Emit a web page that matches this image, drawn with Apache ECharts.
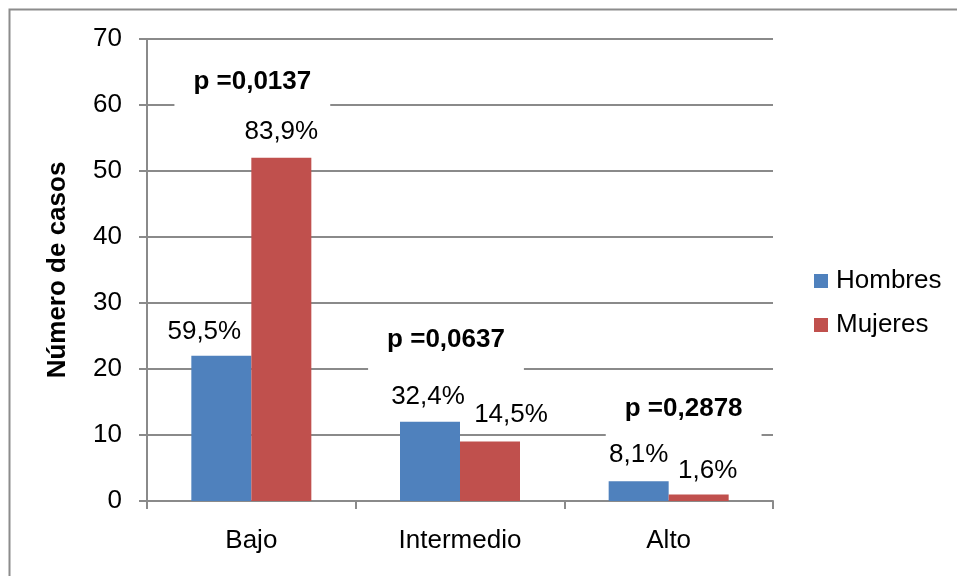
<!DOCTYPE html>
<html>
<head>
<meta charset="utf-8">
<script src="https://cdn.jsdelivr.net/npm/echarts@6/dist/echarts.min.js"></script>
<style>
  html, body { margin: 0; padding: 0; background: #fff; }
  #chart { width: 957px; height: 576px; }
</style>
</head>
<body>
<div id="chart"></div>
<script>
// Casos por nivel, separados por sexo
const categories = ['Bajo', 'Intermedio', 'Alto'];
const hombres = [22, 12, 3];
const mujeres = [52, 9, 1];
const pValues = ['0,0137', '0,0637', '0,2878'];
const yMin = 0, yMax = 70, yStep = 10;

// Layout of the annotations (data-space height and pixel nudge from category centre)
const BAR_WIDTH = 60;
const pPlacement = [
  { y: 63.5, dx: 1 },
  { y: 24.4, dx: -14 },
  { y: 13.9, dx: 15 }
];
const hombresLabelNudge = [[-17, 1], [-2, 0], [0, -1]];
const mujeresLabelNudge = [[0, -1], [21, -2], [9, 1]];

const FONT = '"Liberation Sans", Arial, sans-serif';
const GRID_GREY = '#8a8a8a';

function pct(v, total) {
  return (v / total * 100).toFixed(1).replace('.', ',') + '%';
}
const totH = hombres.reduce((a, b) => a + b, 0);
const totM = mujeres.reduce((a, b) => a + b, 0);

function barData(values, total, nudge) {
  return values.map((v, i) => ({
    value: v,
    label: { offset: nudge[i], formatter: pct(v, total) }
  }));
}

const chart = echarts.init(document.getElementById('chart'), null, { renderer: 'canvas' });

chart.setOption({
  animation: false,
  backgroundColor: '#fff',
  textStyle: { fontFamily: FONT },
  graphic: [{
    type: 'rect',
    shape: { x: 9.5, y: 9.5, width: 1200, height: 1200 },
    style: { fill: 'none', stroke: '#8c8c8c', lineWidth: 2 },
    silent: true
  }],
  grid: { left: 147, right: 184, top: 39, bottom: 75, containLabel: false },
  legend: {
    orient: 'vertical',
    left: 809,
    top: 263,
    itemWidth: 14,
    itemHeight: 14,
    itemGap: 18,
    icon: 'rect',
    textStyle: { fontFamily: FONT, fontSize: 26, lineHeight: 26, color: '#000', padding: [0, 0, 0, 3] },
    data: ['Hombres', 'Mujeres']
  },
  xAxis: {
    type: 'category',
    data: categories,
    boundaryGap: true,
    axisLine: { lineStyle: { color: GRID_GREY, width: 2 } },
    axisTick: { show: true, length: 8, alignWithLabel: false, lineStyle: { color: GRID_GREY, width: 2 } },
    axisLabel: { fontFamily: FONT, fontSize: 26, lineHeight: 26, color: '#000', margin: 27 }
  },
  yAxis: {
    type: 'value',
    min: yMin,
    max: yMax,
    interval: yStep,
    name: 'Número de casos',
    nameLocation: 'middle',
    nameRotate: 90,
    nameGap: 76,
    nameTextStyle: { fontFamily: FONT, fontSize: 26, fontWeight: 'bold', color: '#000' },
    axisLine: { show: true, lineStyle: { color: GRID_GREY, width: 2 } },
    axisTick: { show: true, length: 8, lineStyle: { color: GRID_GREY, width: 2 } },
    axisLabel: { fontFamily: FONT, fontSize: 26, color: '#000', margin: 25 },
    splitLine: { show: true, lineStyle: { color: GRID_GREY, width: 2 } }
  },
  series: [
    {
      name: 'Hombres',
      type: 'bar',
      barWidth: BAR_WIDTH,
      barGap: '0%',
      itemStyle: { color: '#4F81BD' },
      label: {
        show: true,
        position: 'top',
        distance: 12,
        fontFamily: FONT,
        fontSize: 26,
        lineHeight: 26,
        color: '#000'
      },
      data: barData(hombres, totH, hombresLabelNudge),
      // p-values per category; markPoint anchors on this series' bar, so shift by half a bar
      markPoint: {
        symbol: 'rect',
        symbolSize: 0,
        silent: true,
        label: {
          show: true,
          position: 'inside',
          formatter: '{b}',
          fontFamily: FONT,
          fontSize: 26,
          lineHeight: 26,
          fontWeight: 'bold',
          color: '#000',
          backgroundColor: '#fff',
          padding: [17, 19]
        },
        data: pValues.map((p, i) => ({
          name: 'p =' + p,
          coord: [i, pPlacement[i].y],
          label: { offset: [pPlacement[i].dx + BAR_WIDTH / 2, 0] }
        }))
      }
    },
    {
      name: 'Mujeres',
      type: 'bar',
      barWidth: BAR_WIDTH,
      barGap: '0%',
      itemStyle: { color: '#C0504D' },
      label: {
        show: true,
        position: 'top',
        distance: 12,
        fontFamily: FONT,
        fontSize: 26,
        lineHeight: 26,
        color: '#000'
      },
      data: barData(mujeres, totM, mujeresLabelNudge)
    }
  ]
});
</script>
</body>
</html>
